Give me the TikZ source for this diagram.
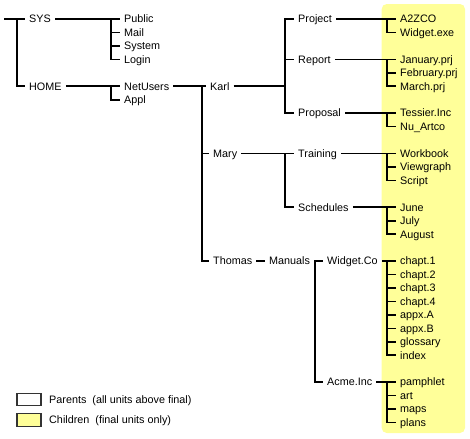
\documentclass[tikz,border=0pt]{standalone}
\usepackage{fontspec}
\setmainfont{Liberation Sans}
\definecolor{leafyellow}{HTML}{FFFF99}
\begin{document}
\begin{tikzpicture}[x=1pt,y=-13.45pt,
  lbl/.style={anchor=west, inner xsep=4pt, inner ysep=1pt, text height=7.6pt, text depth=0pt, font=\fontsize{10.8}{12}\selectfont},
  wire/.style={line width=1.7pt},
  legendbox/.style={draw=black!80, line width=1.2pt, minimum width=24pt, minimum height=12.5pt, inner sep=0pt},
  legendtext/.style={anchor=west, inner sep=0pt, text height=7.6pt, text depth=0pt, font=\fontsize{10.8}{12}\selectfont}]
\useasboundingbox (0,-1.4126) rectangle (470,31.152);
% leaf area
\fill[leafyellow, rounded corners=5pt] (381.7,-1.115) rectangle (465,30.78);

% nodes
\coordinate (root) at (4,0);
\node[lbl] (sys) at (25,0) {SYS};
\node[lbl] (home) at (25,5) {HOME};
\node[lbl] (public) at (120,0) {Public};
\node[lbl] (mail) at (120,1) {Mail};
\node[lbl] (system) at (120,2) {System};
\node[lbl] (login) at (120,3) {Login};
\node[lbl] (netusers) at (120,5) {NetUsers};
\node[lbl] (appl) at (120,6) {Appl};
\node[lbl] (karl) at (206,5) {Karl};
\node[lbl] (mary) at (209,10) {Mary};
\node[lbl] (thomas) at (209,18) {Thomas};
\node[lbl] (project) at (294,0) {Project};
\node[lbl] (report) at (294,3) {Report};
\node[lbl] (proposal) at (294,7) {Proposal};
\node[lbl] (training) at (294,10) {Training};
\node[lbl] (schedules) at (294,14) {Schedules};
\node[lbl] (manuals) at (265,18) {Manuals};
\node[lbl] (widgetco) at (323,18) {Widget.Co};
\node[lbl] (acme) at (323,27) {Acme.Inc};
% leaves
\node[lbl] (a2zco) at (396,0) {A2ZCO};
\node[lbl] (widgetexe) at (396,1) {Widget.exe};
\node[lbl] (jan) at (396,3) {January.prj};
\node[lbl] (feb) at (396,4) {February.prj};
\node[lbl] (mar) at (396,5) {March.prj};
\node[lbl] (tessier) at (396,7) {Tessier.Inc};
\node[lbl] (nuartco) at (396,8) {Nu\_Artco};
\node[lbl] (workbook) at (396,10) {Workbook};
\node[lbl] (viewgraph) at (396,11) {Viewgraph};
\node[lbl] (script) at (396,12) {Script};
\node[lbl] (june) at (396,14) {June};
\node[lbl] (july) at (396,15) {July};
\node[lbl] (august) at (396,16) {August};
\node[lbl] (ch1) at (396,18) {chapt.1};
\node[lbl] (ch2) at (396,19) {chapt.2};
\node[lbl] (ch3) at (396,20) {chapt.3};
\node[lbl] (ch4) at (396,21) {chapt.4};
\node[lbl] (apxa) at (396,22) {appx.A};
\node[lbl] (apxb) at (396,23) {appx.B};
\node[lbl] (gloss) at (396,24) {glossary};
\node[lbl] (index) at (396,25) {index};
\node[lbl] (pamphlet) at (396,27) {pamphlet};
\node[lbl] (art) at (396,28) {art};
\node[lbl] (maps) at (396,29) {maps};
\node[lbl] (plans) at (396,30) {plans};

% bus coordinates
\coordinate (bRoot) at (17,0);
\coordinate (bSys) at (111,0);
\coordinate (bHome) at (111,5);
\coordinate (bNet) at (202,5);
\coordinate (bKarl) at (285,5);
\coordinate (bProject) at (387,0);
\coordinate (bReport) at (387,3);
\coordinate (bProposal) at (387,7);
\coordinate (bMary) at (285,10);
\coordinate (bTraining) at (387,10);
\coordinate (bSched) at (387,14);
\coordinate (bManuals) at (315,18);
\coordinate (bWidget) at (387,18);
\coordinate (bAcme) at (387,27);

% connectors
\draw[wire] (root) -- (sys.west);
\draw[wire] (bRoot) |- (home.west);

\draw[wire] (sys.east) -- (bSys) -- (public.west);
\foreach \c in {mail,system,login} \draw[wire] (bSys) |- (\c.west);

\draw[wire] (home.east) -- (bHome) -- (netusers.west);
\draw[wire] (bHome) |- (appl.west);

\draw[wire] (netusers.east) -- (bNet) -- (karl.west);
\foreach \c in {mary,thomas} \draw[wire] (bNet) |- (\c.west);

\draw[wire] (karl.east) -- (bKarl);
\foreach \c in {project,report,proposal} \draw[wire] (bKarl) |- (\c.west);

\draw[wire] (project.east) -- (bProject) -- (a2zco.west);
\draw[wire] (bProject) |- (widgetexe.west);

\draw[wire] (report.east) -- (bReport) -- (jan.west);
\foreach \c in {feb,mar} \draw[wire] (bReport) |- (\c.west);

\draw[wire] (proposal.east) -- (bProposal) -- (tessier.west);
\draw[wire] (bProposal) |- (nuartco.west);

\draw[wire] (mary.east) -- (bMary) -- (training.west);
\draw[wire] (bMary) |- (schedules.west);

\draw[wire] (training.east) -- (bTraining) -- (workbook.west);
\foreach \c in {viewgraph,script} \draw[wire] (bTraining) |- (\c.west);

\draw[wire] (schedules.east) -- (bSched) -- (june.west);
\foreach \c in {july,august} \draw[wire] (bSched) |- (\c.west);

\draw[wire] (thomas.east) -- (manuals.west);
\draw[wire] (manuals.east) -- (bManuals) -- (widgetco.west);
\draw[wire] (bManuals) |- (acme.west);

\draw[wire] (widgetco.east) -- (bWidget) -- (ch1.west);
\foreach \c in {ch2,ch3,ch4,apxa,apxb,gloss,index} \draw[wire] (bWidget) |- (\c.west);

\draw[wire] (acme.east) -- (bAcme) -- (pamphlet.west);
\foreach \c in {art,maps,plans} \draw[wire] (bAcme) |- (\c.west);

% legend
\node[legendbox, fill=white] (lgparent) at (29,28.29) {};
\node[legendbox, fill=leafyellow] (lgchild) at (29,29.81) {};
\node[legendtext] (lgparenttext) at (49,28.29) {Parents~ (all units above final)};
\node[legendtext] (lgchildtext) at (49,29.81) {Children~ (final units only)};
\end{tikzpicture}
\end{document}
